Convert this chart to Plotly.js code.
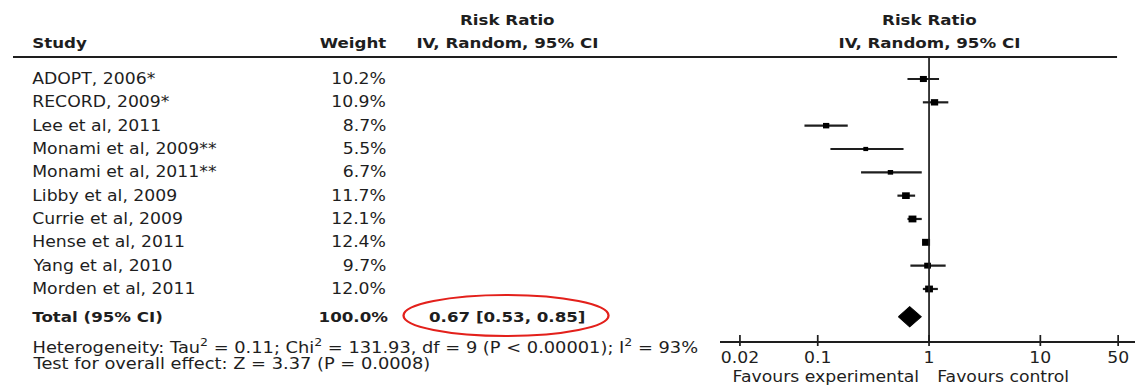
<!DOCTYPE html>
<html>
<head>
<meta charset="utf-8">
<script src="https://cdn.plot.ly/plotly-3.0.1.min.js"></script>
<style>
  html, body { margin: 0; padding: 0; background: #fff; overflow: hidden; }
  #wrap { width: 1135px; height: 392px; overflow: hidden; }
  #chart { transform-origin: 0 0; }
</style>
</head>
<body>
<div id="wrap"><div id="chart"></div></div>
<script>
// Forest plot: risk ratios with 95% CI, random-effects model
const studies = [
  "ADOPT, 2006*", "RECORD, 2009*", "Lee et al, 2011", "Monami et al, 2009**",
  "Monami et al, 2011**", "Libby et al, 2009", "Currie et al, 2009",
  "Hense et al, 2011", "Yang et al, 2010", "Morden et al, 2011"
];
const weights = [10.2, 10.9, 8.7, 5.5, 6.7, 11.7, 12.1, 12.4, 9.7, 12.0];
const riskRatio = [0.89, 1.12, 0.119, 0.27, 0.45, 0.62, 0.71, 0.94, 0.97, 1.00];
const ciLower   = [0.64, 0.88, 0.076, 0.13, 0.245, 0.52, 0.64, 0.91, 0.68, 0.88];
const ciUpper   = [1.23, 1.49, 0.186, 0.59, 0.86, 0.75, 0.86, 0.97, 1.41, 1.20];

const pooled = 0.67, pooledLower = 0.53, pooledUpper = 0.85;
const totalWeight = "100.0%";
const heterogeneityText = "Heterogeneity: Tau<sup>2</sup> = 0.11; Chi<sup>2</sup> = 131.93, df = 9 (P < 0.00001); I<sup>2</sup> = 93%";
const overallText = "Test for overall effect: Z = 3.37 (P = 0.0008)";

const tickVals = [0.02, 0.1, 1, 10, 50];
const tickText = ["0.02", "0.1", "1", "10", "50"];

// ---- geometry helpers (pixel layout of the page) ----
const W = 1135, H = 392;
const stretch = 1.15;              // horizontal widening of the typeface
const TOP = 57, BOTTOM = 341;      // header rule and axis line
const ROW0 = 79, ROW_STEP = 23.33; // first study row and row pitch
const px = v => v / W;             // page pixel -> paper x
const pyPaper = v => (BOTTOM - v) / (BOTTOM - TOP); // page pixel -> paper y
const rowOf = v => (v - ROW0) / ROW_STEP;           // page pixel -> row units
const totalRow = studies.length + 0.19;

const ink = "#1e1e1e";
const font = { family: "DejaVu Sans, sans-serif", size: 15, color: ink };
const noteFont = { family: "DejaVu Sans, sans-serif", size: 15.5, color: ink };
const bold = { family: "DejaVu Sans, sans-serif", size: 14.5, color: ink, weight: "bold" };

const rows = studies.map((_, i) => i);

// confidence interval whiskers
const ciX = [], ciY = [];
rows.forEach(i => { ciX.push(ciLower[i], ciUpper[i], null); ciY.push(i, i, null); });

const traces = [
  { type: "scatter", mode: "lines", x: ciX, y: ciY, hoverinfo: "skip",
    line: { color: ink, width: 2.2 }, showlegend: false },
  { type: "scatter", mode: "markers", x: riskRatio, y: rows, showlegend: false,
    marker: { symbol: "square", color: "#000", opacity: 1, line: { width: 0 },
              size: weights.map(w => 2 + w * 0.4) },
    text: studies, hovertemplate: "%{text}: %{x}<extra></extra>" },
  { type: "scatter", mode: "lines", fill: "toself", fillcolor: "#000", showlegend: false,
    line: { color: "#000", width: 1 }, hoverinfo: "skip",
    x: [pooledLower, pooled, pooledUpper, pooled, pooledLower],
    y: [totalRow, totalRow - 0.43, totalRow, totalRow + 0.43, totalRow] }
];

const fmt = v => v.toFixed(2);
const annotations = [];
const add = (o) => annotations.push(Object.assign({ showarrow: false, xref: "paper", yanchor: "middle" }, o));

// column headers
add({ x: px(30), xanchor: "left", yref: "paper", y: pyPaper(43), text: "Study", font: bold });
add({ x: px(389), xanchor: "right", yref: "paper", y: pyPaper(43), text: "Weight", font: bold });
add({ x: px(507), xanchor: "center", yref: "paper", y: pyPaper(20), text: "Risk Ratio", font: bold });
add({ x: px(507), xanchor: "center", yref: "paper", y: pyPaper(43), text: "IV, Random, 95% CI", font: bold });
add({ x: px(929.5), xanchor: "center", yref: "paper", y: pyPaper(20), text: "Risk Ratio", font: bold });
add({ x: px(929.5), xanchor: "center", yref: "paper", y: pyPaper(43), text: "IV, Random, 95% CI", font: bold });

// study rows
rows.forEach(i => {
  add({ x: px(30), xanchor: "left", yref: "y", y: i, text: studies[i], font });
  add({ x: px(389), xanchor: "right", yref: "y", y: i, text: weights[i].toFixed(1) + "%", font });
});

// pooled row
add({ x: px(30), xanchor: "left", yref: "y", y: totalRow, text: "Total (95% CI)", font: bold });
add({ x: px(391), xanchor: "right", yref: "y", y: totalRow, text: totalWeight, font: bold });
add({ x: px(507.5), xanchor: "center", yref: "y", y: totalRow,
      text: fmt(pooled) + " [" + fmt(pooledLower) + ", " + fmt(pooledUpper) + "]", font: bold });

// footnotes
add({ x: px(30), xanchor: "left", yref: "paper", y: pyPaper(346), text: heterogeneityText, font: noteFont });
add({ x: px(30), xanchor: "left", yref: "paper", y: pyPaper(364), text: overallText, font: noteFont });

// axis direction labels
add({ xref: "x", x: Math.log10(1), xanchor: "right", xshift: -7, yref: "paper", y: pyPaper(377), text: "Favours experimental", font });
add({ xref: "x", x: Math.log10(1), xanchor: "left", xshift: 5, yref: "paper", y: pyPaper(377), text: "Favours control", font });

const shapes = [
  // header rule
  { type: "line", xref: "paper", yref: "paper", x0: px(13), x1: px(1117), y0: 1, y1: 1,
    line: { color: ink, width: 2 } },
  // line of no effect
  { type: "line", xref: "x", yref: "paper", x0: 1, x1: 1, y0: 0, y1: 1,
    line: { color: ink, width: 1.5 } },
  // highlight around the pooled estimate
  { type: "circle", xref: "paper", yref: "y", x0: px(403.5), x1: px(608.5),
    y0: rowOf(295), y1: rowOf(336), line: { color: "#e3201b", width: 2 } }
];
// axis ticks crossing the axis line
tickVals.forEach(v => shapes.push({
  type: "line", xref: "x", yref: "paper", ysizemode: "pixel", yanchor: 0,
  x0: v, x1: v, y0: -5, y1: 6, line: { color: ink, width: 1.5 }
}));

const layout = {
  width: W / stretch, height: H,
  margin: { l: 0, r: 0, t: TOP, b: H - BOTTOM, pad: 0 },
  paper_bgcolor: "#fff", plot_bgcolor: "#fff",
  showlegend: false,
  xaxis: {
    type: "log", domain: [720 / W, 1],
    range: [Math.log10(1) - (929 - 720) / 111.3, Math.log10(1) + (W - 929) / 111.3],
    showline: true, linecolor: ink, linewidth: 2,
    ticks: "", ticklabelstandoff: 2,
    tickvals: tickVals, ticktext: tickText, tickfont: font,
    showgrid: false, zeroline: false, fixedrange: true
  },
  yaxis: {
    range: [rowOf(BOTTOM), rowOf(TOP)], visible: false,
    showgrid: false, zeroline: false, fixedrange: true
  },
  shapes, annotations
};

document.getElementById("chart").style.transform = "scaleX(" + stretch + ")";
Plotly.newPlot("chart", traces, layout, { displayModeBar: false, staticPlot: true });
</script>
</body>
</html>
